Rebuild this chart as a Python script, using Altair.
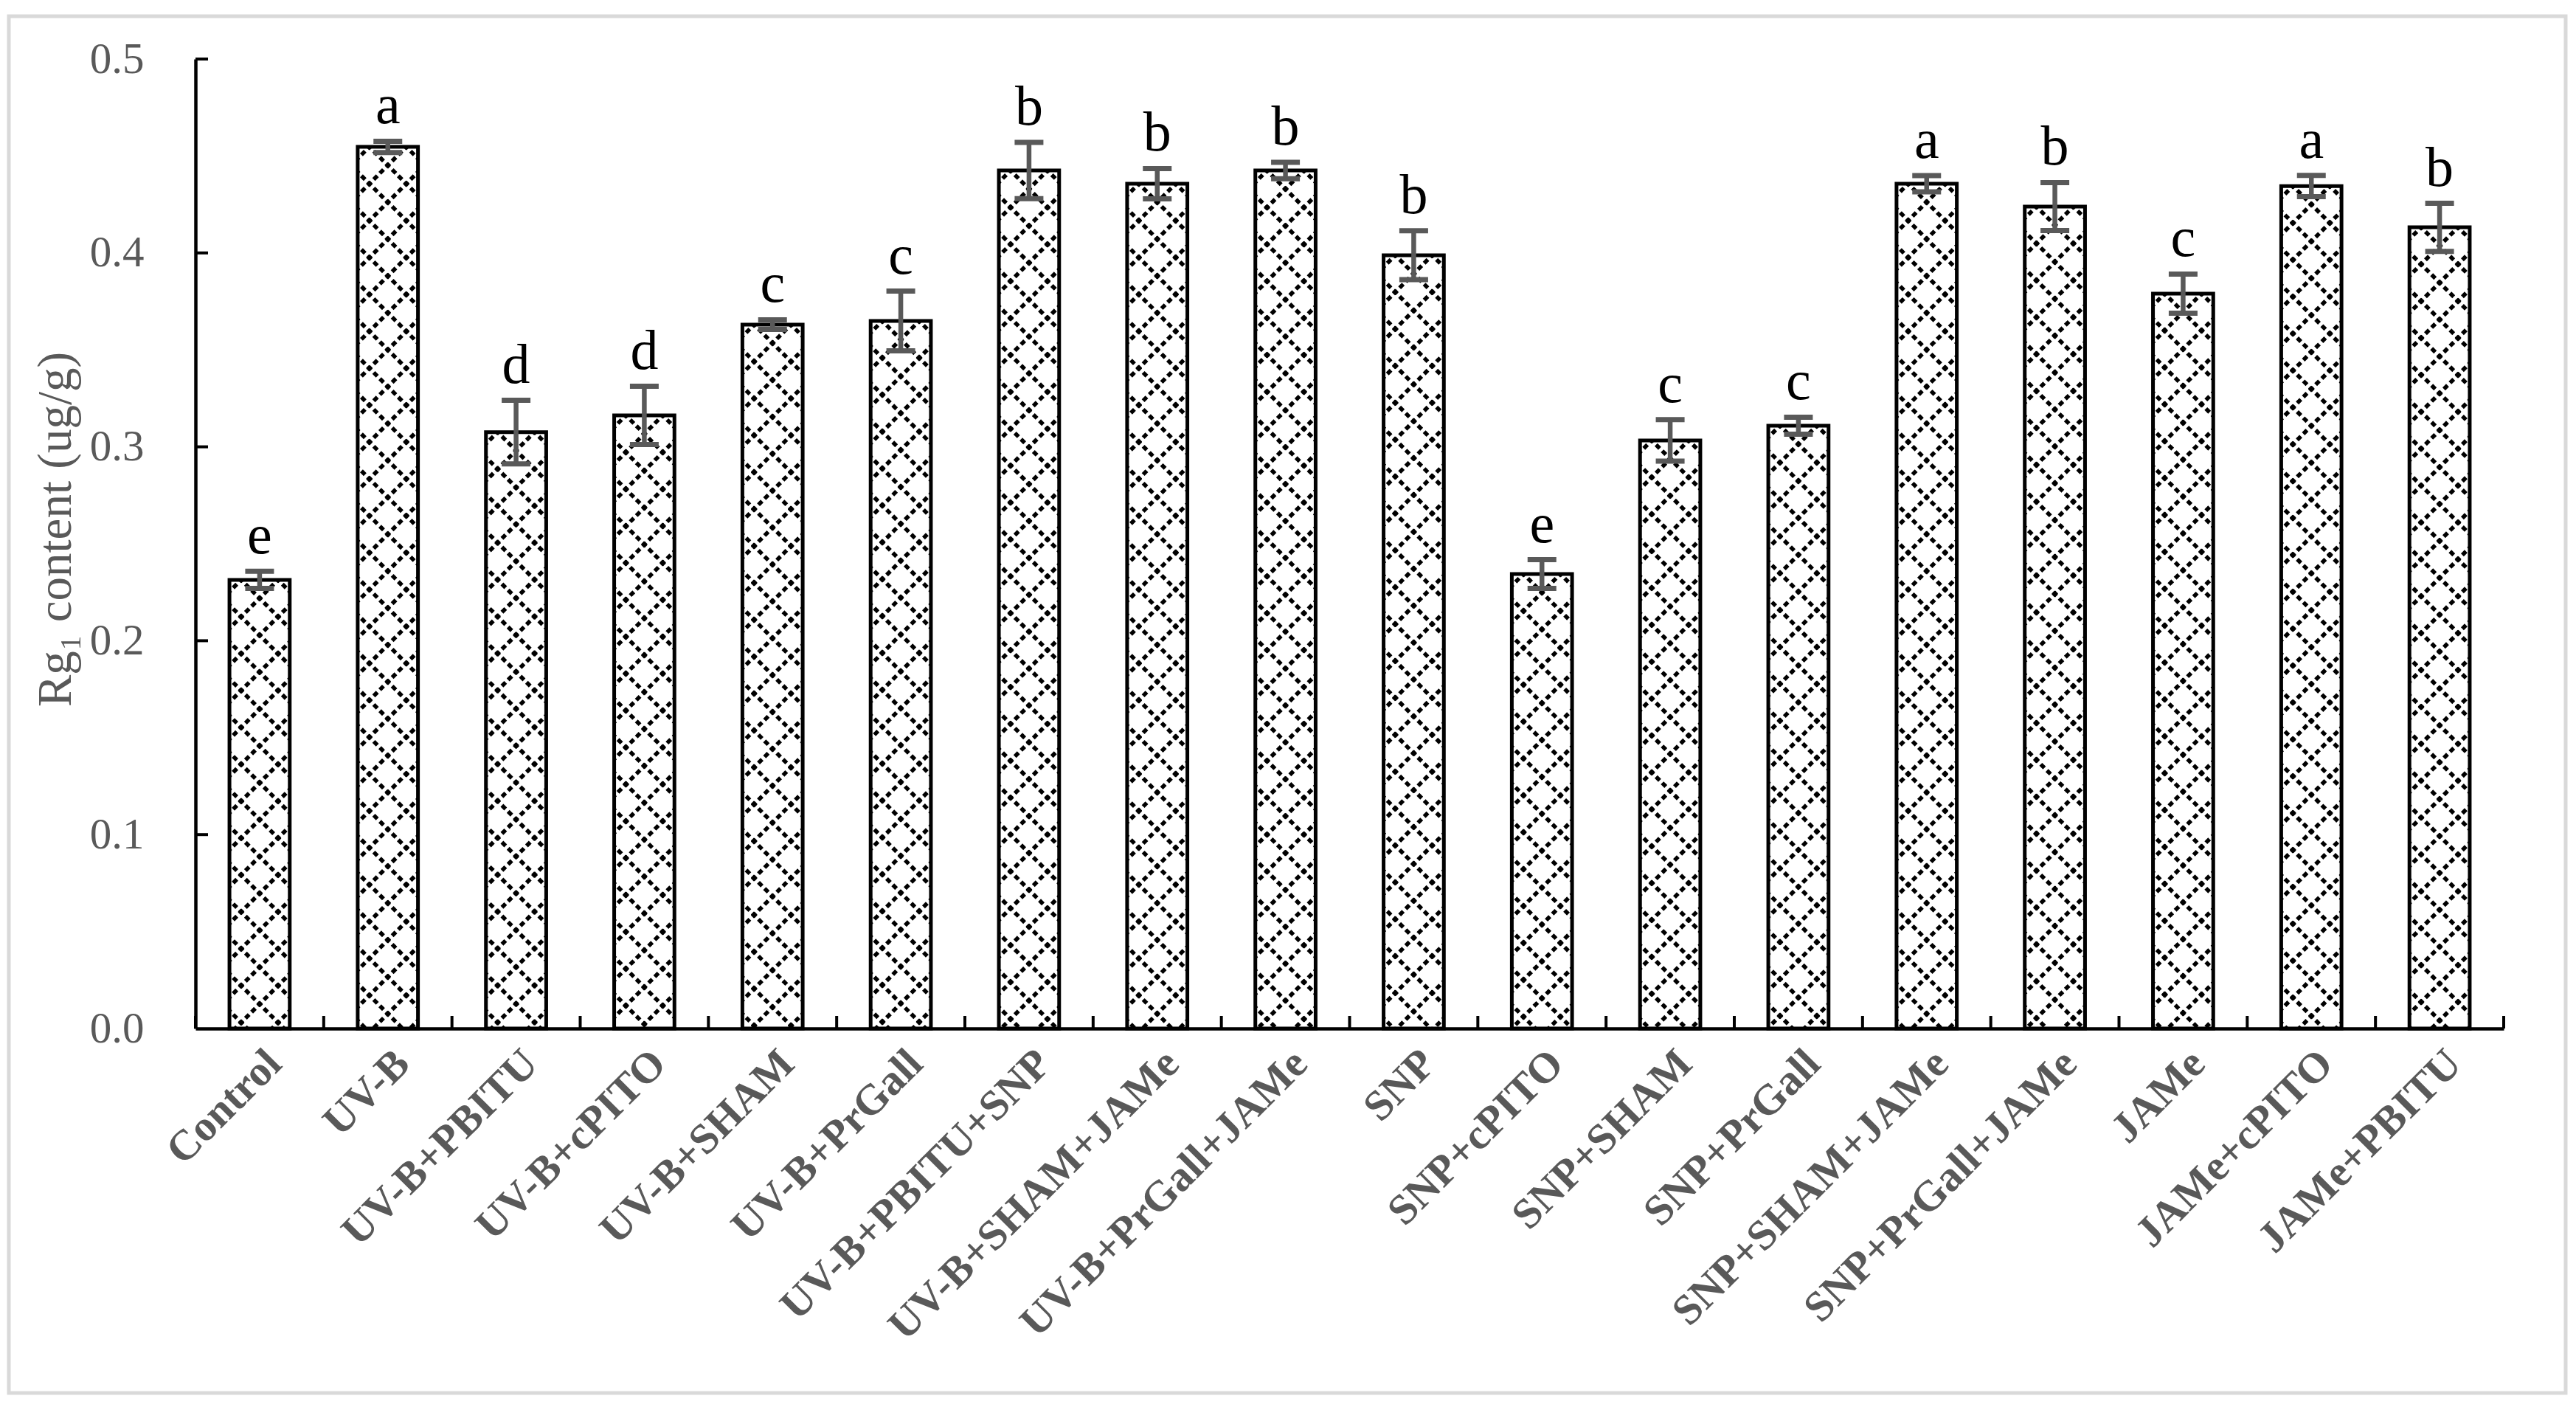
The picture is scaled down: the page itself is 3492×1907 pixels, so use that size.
import altair as alt
import pandas as pd

categories = ["Control", "UV-B", "UV-B+PBITU", "UV-B+cPITO", "UV-B+SHAM", "UV-B+PrGall",
              "UV-B+PBITU+SNP", "UV-B+SHAM+JAMe", "UV-B+PrGall+JAMe", "SNP", "SNP+cPITO",
              "SNP+SHAM", "SNP+PrGall", "SNP+SHAM+JAMe", "SNP+PrGall+JAMe", "JAMe",
              "JAMe+cPITO", "JAMe+PBITU"]
values = [0.2314, 0.4547, 0.3076, 0.3162, 0.3630, 0.3649, 0.4425, 0.4357, 0.4425, 0.3988,
          0.2344, 0.3033, 0.3109, 0.4357, 0.4239, 0.3790, 0.4345, 0.4132]
errors = [0.0044, 0.0029, 0.0164, 0.0150, 0.0025, 0.0154, 0.0145, 0.0078, 0.0042, 0.0126,
          0.0074, 0.0107, 0.0044, 0.0042, 0.0124, 0.0101, 0.0055, 0.0124]
letters = ["e", "a", "d", "d", "c", "c", "b", "b", "b", "b", "e", "c", "c", "a", "b", "c", "a", "b"]
y_tick_values = [0.0, 0.1, 0.2, 0.3, 0.4, 0.5]

# ---- layout / style ----
W, H = 3129, 1314
BAR_FRAC = 0.47
step_px = W / len(categories)
bar_px = BAR_FRAC * step_px
half = bar_px / 2
P = 50.0          # lattice period in px
p = P / 2
tile_step = P * 0.5 / H   # period in data units
diag = p * 2 ** 0.5       # distance between neighbouring crossings
DOT = 7.0
GAP = diag / 3 - DOT

def seg(x1, y1, x2, y2):
    return f"M{x1/half:.4f},{y1/half:.4f}L{x2/half:.4f},{y2/half:.4f}"

tile_path = "".join([
    seg(-p, -p, p, p),
    seg(-p, p, p, -p),
    seg(-p, p, -half, 2 * p - half),
    seg(p, -p, half, half - 2 * p),
    seg(p, p, half, 2 * p - half),
    seg(-p, -p, -half, half - 2 * p),
])

GRAY = "#595959"
SERIF = "Liberation Serif"

df = pd.DataFrame({"cat": categories, "value": values, "err": errors, "letter": letters})

x_axis = alt.Axis(title=None, labelAngle=-45, labelAlign="right", labelBaseline="top",
                  labelFont=SERIF, labelFontSize=58, labelFontWeight="bold", labelColor=GRAY,
                  labelPadding=18, labelLimit=2000, labelOverlap=False,
                  ticks=False, tickSize=0, domainColor="black", domainWidth=4.5)
x_scale = alt.Scale(paddingInner=0, paddingOuter=0)

def X(bp=None):
    if bp is None:
        return alt.X("cat:N", sort=categories, scale=x_scale, axis=x_axis)
    return alt.X("cat:N", sort=categories, scale=x_scale, axis=x_axis, bandPosition=bp)

y_scale = alt.Scale(domain=[0, 0.5], nice=False, zero=True)
y_axis = alt.Axis(values=y_tick_values, format=".1f", ticks=False, tickSize=0, grid=False,
                  labelPadding=70, labelFont=SERIF, labelFontSize=59, labelColor=GRAY,
                  domainColor="black", domainWidth=4.5,
                  title="Rg\u2081 content (ug/g)", titleFont=SERIF, titleFontSize=65,
                  titleFontWeight="normal", titleColor=GRAY, titleAngle=-90,
                  titleX=-190, titleY=H / 2 - 20, titleBaseline="middle", titleAlign="center")

def Y(field):
    return alt.Y(field, scale=y_scale, axis=y_axis)

base = alt.Chart(df)

bars_fill = base.mark_bar(width=alt.RelativeBandSize(BAR_FRAC), fill="white").encode(
    x=X(), y=Y("value:Q")
)

tiles = base.transform_calculate(
    n=f"ceil(datum.value / {tile_step})"
).transform_calculate(
    k="sequence(0, datum.n)"
).transform_flatten(["k"]).transform_calculate(
    ty=f"datum.value - (datum.k + 0.5) * {tile_step}"
).mark_point(
    shape=tile_path, size=bar_px ** 2, filled=False, stroke="black",
    strokeWidth=5.5, strokeDash=[DOT, GAP], strokeDashOffset=DOT / 2,
    opacity=1, clip=True
).encode(x=X(), y=Y("ty:Q"))

bars_outline = base.mark_bar(width=alt.RelativeBandSize(BAR_FRAC), fill="transparent",
                             stroke="black", strokeWidth=5).encode(
    x=X(), y=Y("value:Q")
)

err_base = base.transform_calculate(lo="datum.value - datum.err", hi="datum.value + datum.err")
err_rule = err_base.mark_rule(color=GRAY, strokeWidth=6.5).encode(
    x=X(), y=Y("lo:Q"), y2="hi:Q"
)
cap_hi = err_base.mark_tick(color=GRAY, thickness=7, size=39, opacity=1, orient="horizontal").encode(
    x=X(), y=Y("hi:Q")
)
cap_lo = err_base.mark_tick(color=GRAY, thickness=7, size=39, opacity=1, orient="horizontal").encode(
    x=X(), y=Y("lo:Q")
)
labels = err_base.mark_text(font=SERIF, fontSize=76, color="black", baseline="alphabetic",
                            align="center", dy=-24).encode(
    x=X(), y=Y("hi:Q"), text="letter:N"
)

# inward ticks
yt = alt.Chart(pd.DataFrame({"t": y_tick_values[1:]})).mark_rule(color="black", strokeWidth=4).encode(
    y=Y("t:Q"), x=alt.value(0), x2=alt.value(17)
)
xt = base.mark_rule(color="black", strokeWidth=4).encode(
    x=X(0), y=alt.value(H), y2=alt.value(H - 17)
)
xt_end = base.transform_filter(alt.datum.cat == categories[-1]).mark_rule(
    color="black", strokeWidth=4).encode(
    x=X(1), y=alt.value(H), y2=alt.value(H - 17)
)

frame = alt.Chart(pd.DataFrame({"a": [0]})).mark_rect(
    fill="transparent", stroke="#d9d9d9", strokeWidth=5
).encode(x=alt.value(-253), x2=alt.value(W + 84), y=alt.value(-58), y2=alt.value(H + 494))

chart = alt.layer(
    bars_fill, tiles, bars_outline, err_rule, cap_hi, cap_lo, labels, yt, xt, xt_end, frame
).properties(
    width=W, height=H,
    autosize=alt.AutoSizeParams(type="none"),
    padding={"left": 257, "top": 72, "right": 90, "bottom": 497},
    background="white",
).configure_view(strokeWidth=0)

chart.save("out.html", embed_options={"renderer": "svg", "actions": False})
